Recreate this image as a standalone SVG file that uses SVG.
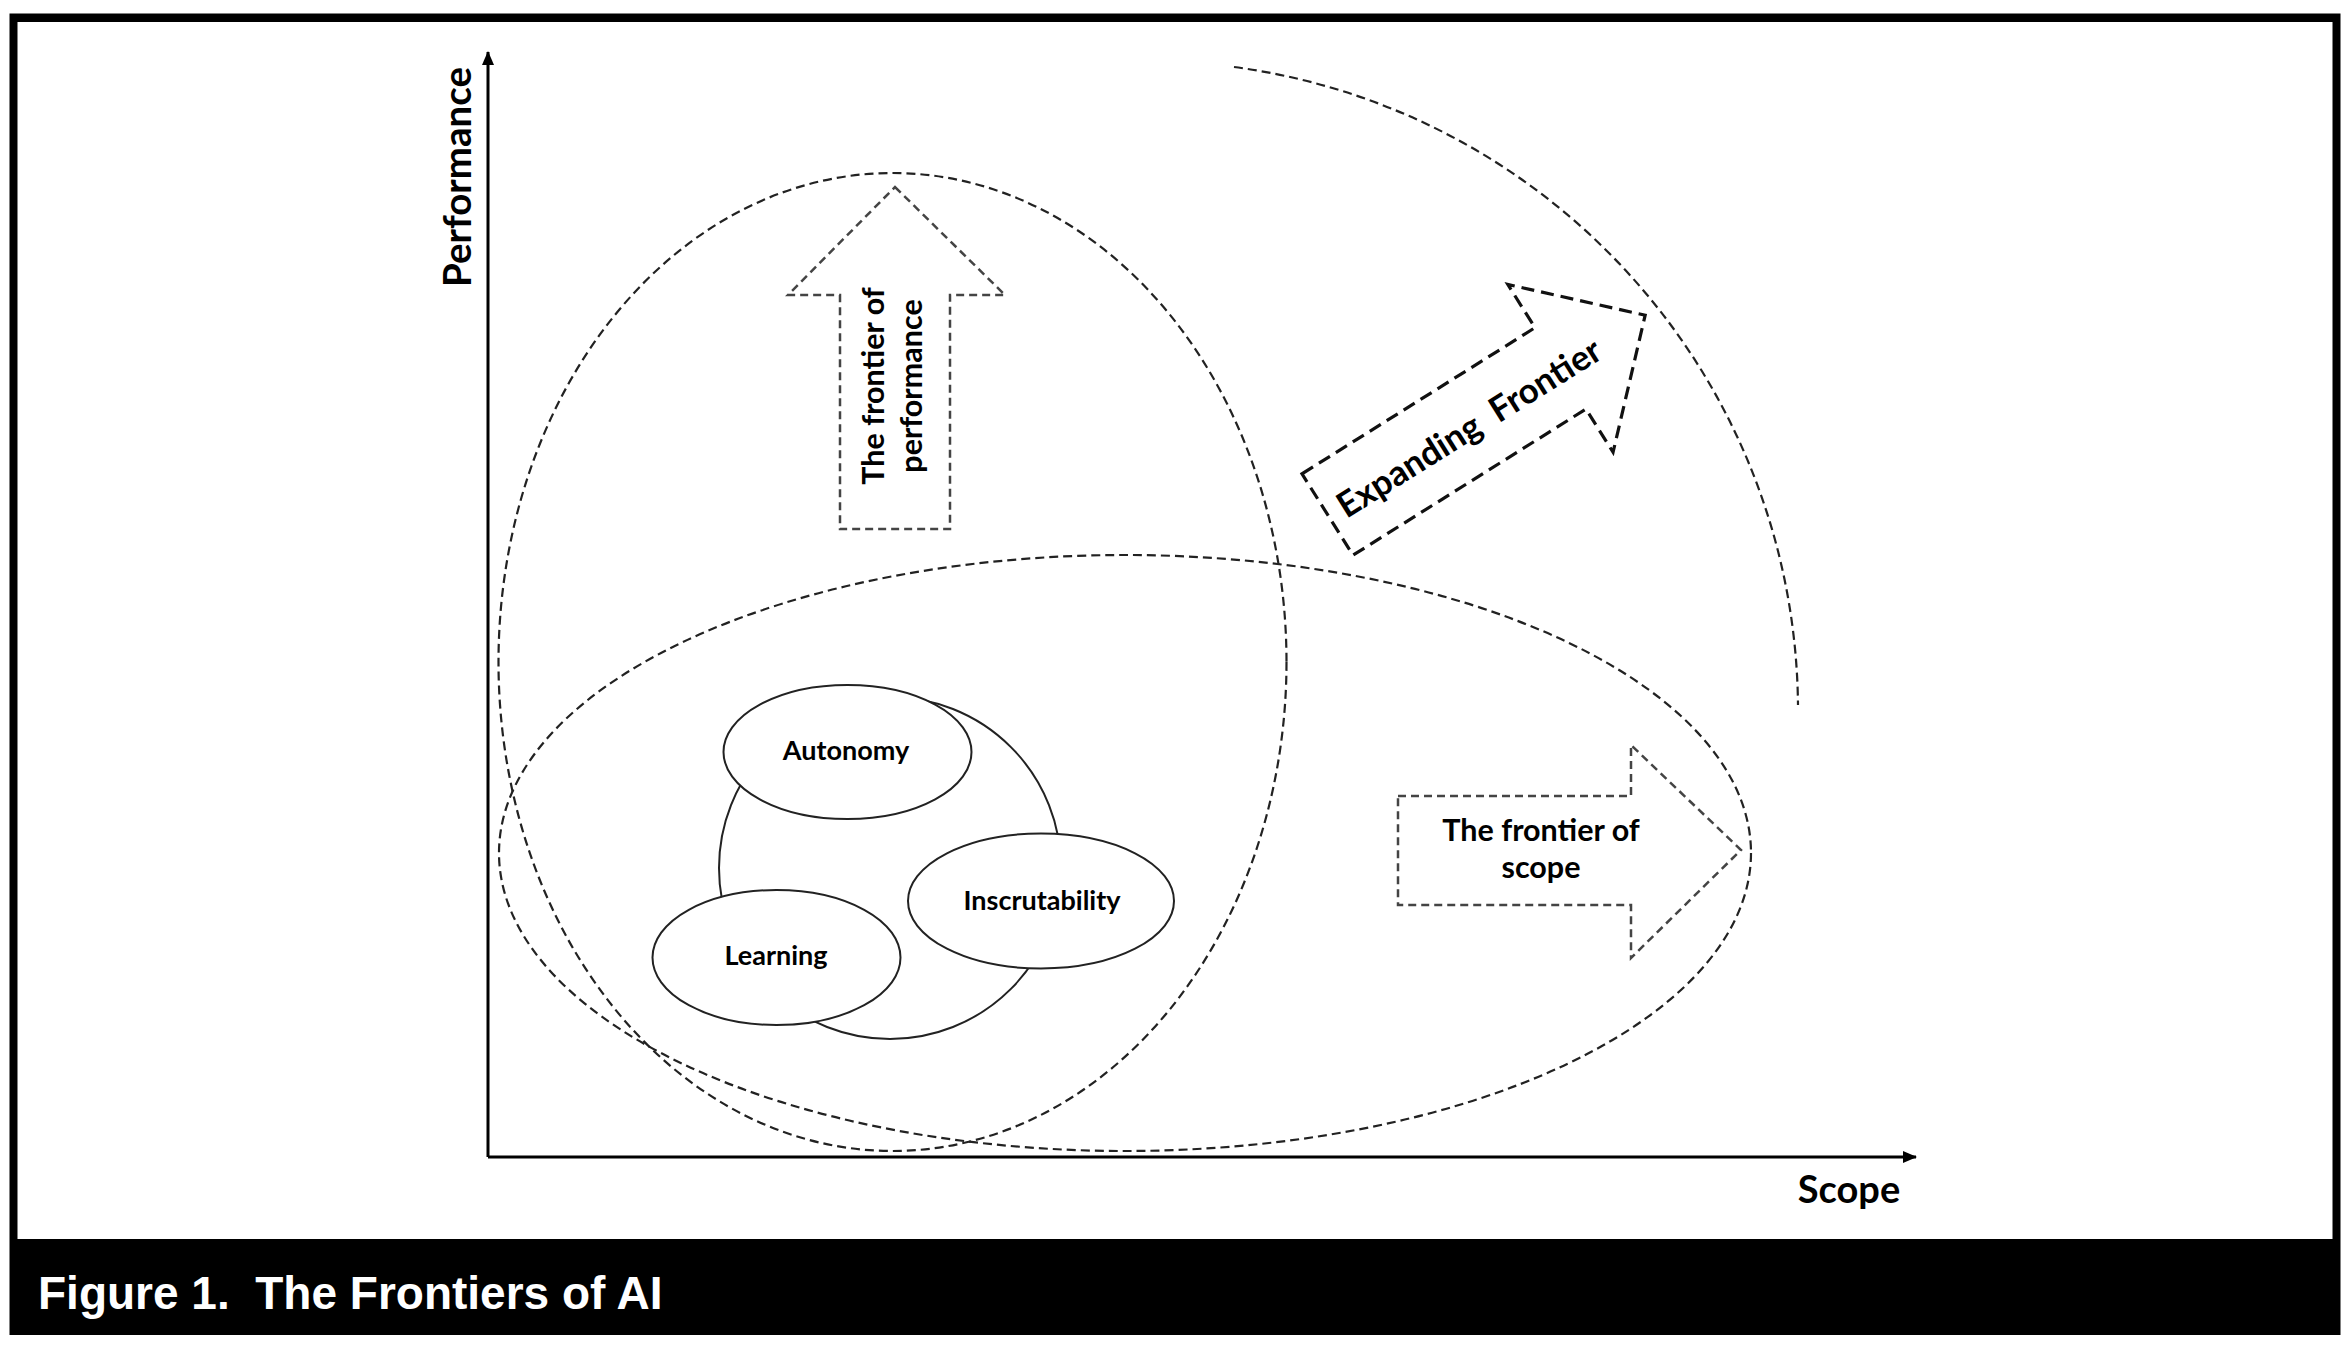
<svg xmlns="http://www.w3.org/2000/svg" width="2350" height="1346" viewBox="0 0 2350 1346">
<style>
.lbl{font-family:Lato,"Open Sans","Liberation Sans",sans-serif;font-weight:700;fill:#000}
.dash{fill:none;stroke:#222;stroke-width:2.2;stroke-dasharray:9 5}
.arr{fill:none;stroke:#444;stroke-width:2.5;stroke-dasharray:8 5}
.arrbold{fill:none;stroke:#111;stroke-width:3.2;stroke-dasharray:13 7}
.solid{fill:#fff;stroke:#222;stroke-width:2}
.axis{stroke:#000;stroke-width:3;fill:none}
</style>
<defs>
<marker id="ah" markerWidth="14" markerHeight="12" refX="13" refY="6" orient="auto" markerUnits="userSpaceOnUse">
<path d="M0,0 L14,6 L0,12 Z" fill="#000"/>
</marker>
</defs>
<rect x="0" y="0" width="2350" height="1346" fill="#fff"/>
<g id="frame">
<rect x="9.5" y="13.5" width="2331" height="1321.5" fill="#000"/>
<rect x="17.5" y="22" width="2315" height="1217" fill="#fff"/>
<text x="38" y="1309" font-family="'Liberation Sans',Arial,sans-serif" font-weight="700" font-size="46" fill="#fff" xml:space="preserve">Figure 1.  The Frontiers of AI</text>
</g>
<g id="axes">
<line class="axis" x1="488" y1="1157" x2="488" y2="52" marker-end="url(#ah)"/>
<line class="axis" x1="488" y1="1157" x2="1916" y2="1157" marker-end="url(#ah)"/>
<text class="lbl" font-size="38.5" transform="translate(471,177) rotate(-90)" text-anchor="middle">Performance</text>
<text class="lbl" font-size="38" x="1849" y="1203" text-anchor="middle">Scope</text>
</g>
<g id="connectors">
<ellipse id="performance-region" class="dash" cx="892.5" cy="662" rx="394" ry="489"/>
<ellipse id="scope-region" class="dash" cx="1125" cy="853" rx="626" ry="298"/>
<path id="expanding-arc" class="dash" d="M1234,67 A650,650 0 0 1 1798,705"/>
</g>
<g id="frontier-performance">
<polygon class="arr" points="895,187 1005,295 950,295 950,529 840,529 840,295 788,295"/>
<g transform="translate(897,386) rotate(-90)">
<text class="lbl" font-size="30.5" x="0" y="-13" text-anchor="middle">The frontier of</text>
<text class="lbl" font-size="30.5" x="0" y="25" text-anchor="middle">performance</text>
</g>
</g>
<g id="expanding-frontier" transform="translate(1327.5,514.5) rotate(-32.1)">
<polygon class="arrbold" points="0,-48 275,-48 275,-99 375,0 275,99 275,48 0,48"/>
<text class="lbl" font-size="35" x="166" y="14" text-anchor="middle" xml:space="preserve">Expanding  Frontier</text>
</g>
<g id="frontier-scope">
<polygon class="arr" points="1398,796 1631,796 1631,745 1741,850 1631,958 1631,905 1398,905"/>
<text class="lbl" font-size="30.5" x="1541" y="841" text-anchor="middle">The frontier of</text>
<text class="lbl" font-size="30.5" x="1541" y="878" text-anchor="middle">scope</text>
</g>
<g id="ai-core">
<ellipse class="solid" cx="890" cy="868" rx="171" ry="171"/>
</g>
<g id="autonomy">
<ellipse class="solid" cx="847.5" cy="752" rx="124" ry="67"/>
<text class="lbl" font-size="27" x="846" y="760" text-anchor="middle">Autonomy</text>
</g>
<g id="learning">
<ellipse class="solid" cx="776.5" cy="957.5" rx="124" ry="67.5"/>
<text class="lbl" font-size="27" x="776" y="965" text-anchor="middle">Learning</text>
</g>
<g id="inscrutability">
<ellipse class="solid" cx="1041" cy="901" rx="133" ry="67.5"/>
<text class="lbl" font-size="27" x="1042" y="910" text-anchor="middle">Inscrutability</text>
</g>
</svg>
